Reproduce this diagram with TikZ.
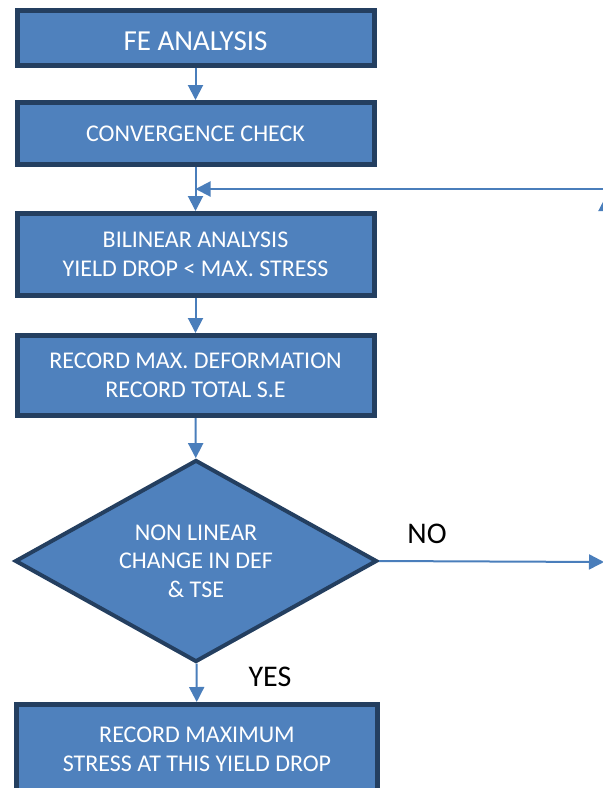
\documentclass[tikz,border=0pt]{standalone}
\usepackage{fontspec}
\setmainfont{Carlito}
\usetikzlibrary{shapes.geometric,arrows.meta}
\definecolor{boxfill}{HTML}{4F81BD}
\definecolor{boxline}{HTML}{243F60}
\definecolor{arrline}{HTML}{4A7EBB}

\begin{document}
\begin{tikzpicture}[x=1pt,y=-1pt,
		box/.style={draw=boxline,fill=boxfill,line width=5pt,text=white,align=center,
			inner sep=0pt,minimum width=357pt,font=\fontsize{24}{28.5}\selectfont},
		dec/.style={diamond,draw=boxline,fill=boxfill,line width=4pt,text=white,align=center,
			inner sep=0pt,aspect=1.8,minimum width=362pt,minimum height=202pt,
			font=\fontsize{24}{28.5}\selectfont},
		arr/.style={draw=arrline,line width=2pt,-{Triangle[width=15pt,length=15pt]}},
		lbl/.style={font=\fontsize{30}{34}\selectfont,text=black}]
		\useasboundingbox (0,0) rectangle (603,788);
		\clip (0,0) rectangle (603,788);

		\node[box,minimum height=55pt,font=\fontsize{29}{34}\selectfont] (fe) at (195.5,37.5) {\raisebox{-4pt}[\height][0pt]{FE ANALYSIS}};
		\node[box,minimum height=62pt] (conv) at (195.5,133.5) {CONVERGENCE CHECK};
		\node[box,minimum height=82pt] (bilin) at (195.5,254.5) {BILINEAR ANALYSIS\\YIELD DROP < MAX. STRESS};
		\node[box,minimum height=80pt] (rec) at (195.5,375.5) {RECORD MAX. DEFORMATION\\RECORD TOTAL S.E};
		\node[dec] (check) at (196,561) {NON LINEAR\\CHANGE IN DEF\\\& TSE};
		\node[box,minimum width=361pt,minimum height=90pt] (maxs) at (197,749.5) {RECORD MAXIMUM\\STRESS AT THIS YIELD DROP};

		\coordinate (loopR) at (610,189);
		\coordinate (upR) at (606,240);
		\coordinate (noR) at (604,562);

		\draw[arr] (fe) -- (conv);
		\draw[arr] (conv) -- (bilin);
		\draw[arr] (bilin) -- (rec);
		\draw[arr] (rec) -- (check);
		\draw[arr] (check) -- (maxs);
		\draw[arr] (loopR) -- (loopR -| bilin.north);
		\draw[arr] (upR) -- ++(0,-44);
		\draw[arr] (check.east) -- (noR);

		\node[lbl] (no) at (427,534) {NO};
		\node[lbl] (yes) at (270,677) {YES};
	\end{tikzpicture}
\end{document}
